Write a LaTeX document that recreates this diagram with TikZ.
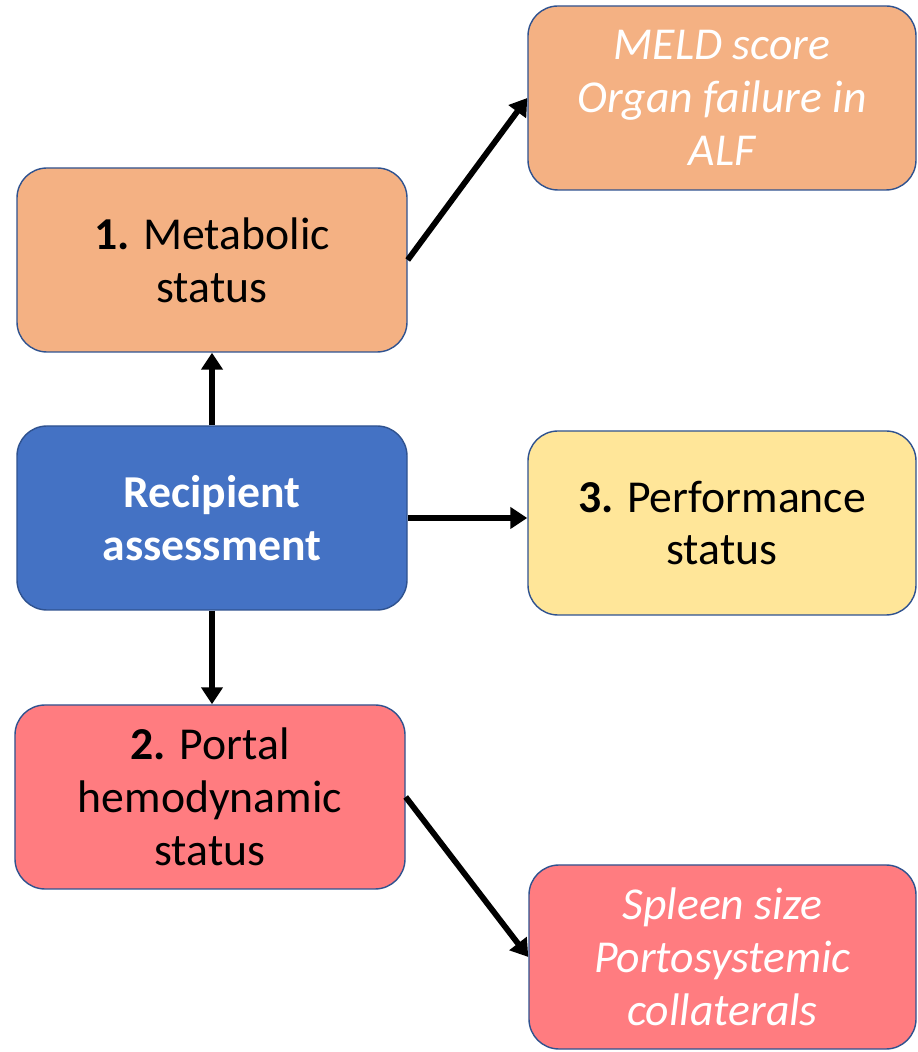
\documentclass[tikz,border=0pt]{standalone}
\usepackage{fontspec}
\setmainfont{Carlito}
\usetikzlibrary{arrows.meta}

\definecolor{boxorange}{HTML}{F4B183}
\definecolor{boxblue}{HTML}{4472C4}
\definecolor{boxyellow}{HTML}{FFE699}
\definecolor{boxred}{HTML}{FF7C80}
\definecolor{boxline}{HTML}{2F528F}

\tikzset{
  statusbox/.style={draw=boxline, line width=0.8pt, rounded corners=0.6cm,
    minimum width=7.8cm, minimum height=3.68cm, align=center,
    font=\fontsize{26}{30}\selectfont},
  detailbox/.style={statusbox, text=white, font=\fontsize{26}{30}\selectfont\itshape},
  link/.style={-{Triangle[length=0.34cm,width=0.42cm]}, line width=3.3pt}
}

\begin{document}
\begin{tikzpicture}
        \useasboundingbox (0,0) rectangle (18.36,21.04);
        \node[statusbox, fill=boxblue, text=white, font=\fontsize{26}{30}\selectfont\bfseries] (rec) at (4.24,10.68) {Recipient\\assessment};
        \node[statusbox, fill=boxorange] (met) at (4.24,15.84) {\textbf{1.} Metabolic\\status};
        \node[statusbox, fill=boxred] (portal) at (4.2,5.1) {\textbf{2.} Portal\\hemodynamic\\status};
        \node[statusbox, fill=boxyellow, minimum width=7.76cm] (perf) at (14.44,10.58) {\textbf{3.} Performance\\status};
        \node[detailbox, fill=boxorange, minimum width=7.76cm] (meld) at (14.44,19.08) {MELD score\\Organ failure in\\ALF};
        \node[detailbox, fill=boxred, minimum width=7.74cm] (spleen) at (14.45,1.9) {Spleen size\\Portosystemic\\collaterals};
        \draw[link] (rec) -- (met);
        \draw[link] (rec) -- (portal.north -| rec.south);
        \draw[link] (rec.east) -- (rec.east -| perf.west);
        \draw[link] (met.east) -- (meld.west);
        \draw[link] (portal.east) -- (spleen.west);
      \end{tikzpicture}
\end{document}
